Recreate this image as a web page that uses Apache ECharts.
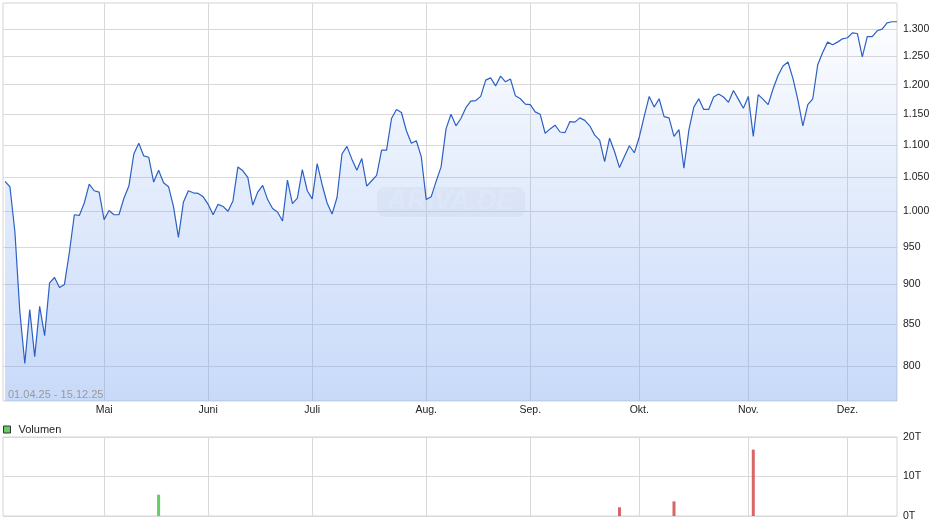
<!DOCTYPE html>
<html><head><meta charset="utf-8">
<script src="https://cdn.jsdelivr.net/npm/echarts@6/dist/echarts.min.js"></script>
<style>html,body{margin:0;padding:0;background:#fff}#c{width:940px;height:526px}</style>
</head><body><div id="c"></div>
<script>
// Daily closing prices, one entry per trading day (01.04.25 - 15.12.25)
const closesApr = [1044, 1036, 971, 865, 803, 868, 811, 872, 836, 902, 909, 896, 900, 943, 995, 994, 1012, 1040, 1030, 1028];
const closesMay = [988, 1001, 995, 995, 1019, 1037, 1086, 1103, 1083, 1081, 1043, 1061, 1042, 1036, 1007, 963, 1013, 1030, 1027, 1026, 1021];
const closesJun = [1010, 995, 1010, 1007, 1000, 1015, 1066, 1060, 1050, 1009, 1028, 1038, 1017, 1004, 999, 986, 1046, 1011, 1019, 1062, 1030];
const closesJul = [1018, 1071, 1039, 1012, 996, 1020, 1086, 1098, 1078, 1061, 1079, 1037, 1045, 1053, 1092, 1092, 1143, 1158, 1153, 1123, 1103, 1107, 1082];
const closesAug = [1017, 1021, 1044, 1066, 1126, 1150, 1131, 1143, 1161, 1172, 1173, 1180, 1208, 1212, 1198, 1215, 1205, 1210, 1181, 1176, 1167];
const closesSep = [1166, 1154, 1150, 1119, 1126, 1132, 1121, 1120, 1138, 1137, 1144, 1140, 1131, 1116, 1108, 1074, 1111, 1090, 1065, 1082, 1099, 1088];
const closesOct = [1113, 1147, 1180, 1162, 1176, 1146, 1144, 1114, 1125, 1064, 1124, 1162, 1176, 1158, 1158, 1179, 1184, 1179, 1170, 1190, 1175, 1160];
const closesNov = [1180, 1114, 1183, 1175, 1166, 1193, 1216, 1233, 1240, 1211, 1174, 1131, 1166, 1176, 1235, 1257, 1276, 1271, 1276, 1282];
const closesDec = [1284, 1293, 1292, 1249, 1286, 1286, 1297, 1300, 1312, 1314, 1314];

// Index of first trading day of each month and its label
const monthStarts = [20, 41, 62, 85, 106, 128, 150, 170];
const monthLabels = ['Mai', 'Juni', 'Juli', 'Aug.', 'Sep.', 'Okt.', 'Nov.', 'Dez.'];
const priceTicks = [800, 850, 900, 950, 1000, 1050, 1100, 1150, 1200, 1250, 1300];

// Volume (trading-day index, shares)
const volumeDays = [31, 124, 135, 151];
const volumeValues = [5400, 2200, 3700, 16800];
const volumeTicks = [0, 10000, 20000];

const closes = [].concat(closesApr, closesMay, closesJun, closesJul, closesAug, closesSep, closesOct, closesNov, closesDec);
const rangeText = '01.04.25 - 15.12.25';

const FONT = 'Liberation Sans, Arial, sans-serif';
const GRID_COLOR = '#d9d9d9';
const UP = '#66cc66', DOWN = '#d96666';

function deNum(v) { return String(Math.round(v)).replace(/\B(?=(\d{3})+(?!\d))/g, '.'); }

const chart = echarts.init(document.getElementById('c'), null, { renderer: 'canvas' });
const xBase = {
  type: 'value', min: -0.4, max: 180,
  axisLine: { show: false },
  axisTick: { show: false, customValues: monthStarts },
  splitLine: { show: true, lineStyle: { color: GRID_COLOR, width: 1 } }
};
chart.setOption({
  animation: false,
  grid: [
    { left: 3, right: 43, top: 3, bottom: 125, show: true, borderColor: '#d4d4d4', borderWidth: 1 },
    { left: 3, right: 43, top: 437, bottom: 10, show: true, borderColor: '#d4d4d4', borderWidth: 1 }
  ],
  legend: {
    left: 3, top: 424, padding: 0, itemWidth: 7, itemHeight: 7, icon: 'rect',
    itemStyle: { borderColor: '#333', borderWidth: 1 },
    textStyle: { fontFamily: FONT, fontSize: 11, color: '#222', padding: [0, 0, 0, 3] },
    data: ['Volumen']
  },
  xAxis: [
    Object.assign({}, xBase, {
      gridIndex: 0,
      axisLabel: {
        customValues: monthStarts, margin: 4, color: '#222', fontFamily: FONT, fontSize: 10.5,
        formatter: v => monthLabels[monthStarts.indexOf(Math.round(v))] || ''
      }
    }),
    Object.assign({}, xBase, { gridIndex: 1, axisLabel: { show: false } })
  ],
  yAxis: [
    {
      gridIndex: 0, type: 'log', min: 760.8, max: 1350, position: 'right',
      axisLine: { show: false },
      axisTick: { show: false, customValues: priceTicks },
      axisLabel: { customValues: priceTicks, margin: 6, color: '#222', fontFamily: FONT, fontSize: 10.5, formatter: deNum },
      splitLine: { show: true, lineStyle: { color: GRID_COLOR, width: 1 } }
    },
    {
      gridIndex: 1, type: 'value', min: 0, max: 20000, interval: 10000, position: 'right',
      axisLine: { show: false }, axisTick: { show: false },
      axisLabel: { margin: 6, color: '#222', fontFamily: FONT, fontSize: 10.5, formatter: v => (v / 1000) + 'T' },
      splitLine: { show: true, lineStyle: { color: GRID_COLOR, width: 1 } }
    }
  ],
  series: [
    {
      type: 'line', xAxisIndex: 0, yAxisIndex: 0, name: 'Kurs',
      data: closes.map((v, i) => [i, v]),
      symbol: 'none', silent: true,
      lineStyle: { color: '#2c60c4', width: 1.2 },
      areaStyle: {
        origin: 'start',
        color: {
          type: 'linear', x: 0, y: 3, x2: 0, y2: 401, global: true,
          colorStops: [
            { offset: 0, color: 'rgba(115,160,240,0)' },
            { offset: 0.5, color: 'rgba(115,160,240,0.3)' },
            { offset: 1, color: 'rgba(115,160,240,0.56)' }
          ]
        }
      },
      z: 2
    },
    {
      type: 'bar', name: 'Volumen', xAxisIndex: 1, yAxisIndex: 1, barWidth: 3,
      itemStyle: { color: UP },
      data: volumeDays.map((d, k) => ({
        value: [d, volumeValues[k]],
        itemStyle: { color: closes[d] >= closes[d - 1] ? UP : DOWN }
      }))
    }
  ],
  graphic: [
    {
      type: 'group', left: 377, top: 187, z: 1, silent: true,
      children: [
        { type: 'rect', shape: { x: 0, y: 0, width: 148, height: 30, r: 8 }, style: { fill: 'rgba(170,180,200,0.12)' } },
        { type: 'text', x: 74, y: 15, style: { text: 'ARIVA.DE', fontFamily: FONT, fontSize: 27, fontWeight: 'bold', fontStyle: 'italic', fill: 'rgba(255,255,255,0.45)', align: 'center', verticalAlign: 'middle' } }
      ]
    },
    {
      type: 'text', left: 8, top: 389, z: 10, silent: true,
      style: { text: rangeText, fontFamily: FONT, fontSize: 11, fill: '#9a9a9a' }
    }
  ]
});
</script></body></html>
